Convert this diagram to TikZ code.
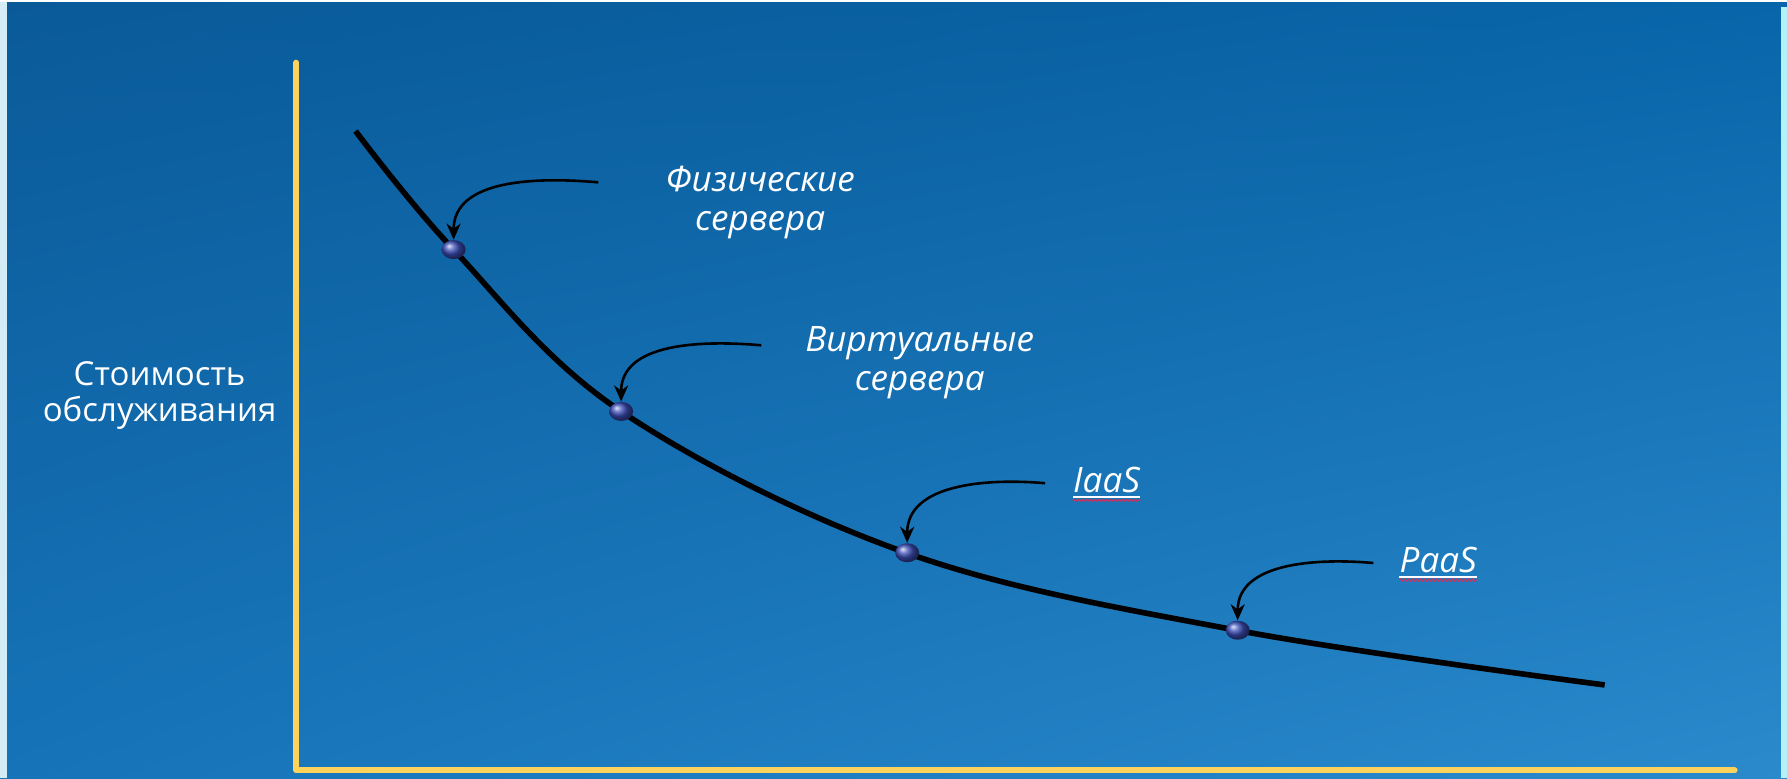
\documentclass[tikz,border=0pt]{standalone}
\usepackage{fontspec}
\setmainfont{Open Sans}
\usetikzlibrary{arrows.meta}
\usetikzlibrary{shapes.geometric}
\usetikzlibrary{shadings}
\usetikzlibrary{decorations.pathmorphing}
\definecolor{bgtl}{HTML}{0A5A98}
\definecolor{bgtr}{HTML}{0865A9}
\definecolor{bgbl}{HTML}{1673B8}
\definecolor{bgbr}{HTML}{2A8ACC}
\definecolor{edgeleft}{HTML}{D4ECF6}
\definecolor{edgeright}{HTML}{B4F2F8}
\definecolor{axisyellow}{HTML}{FDD35E}
\definecolor{ballblue}{HTML}{3B4DB5}
\definecolor{spellred}{HTML}{D0305A}

\begin{document}
\begin{tikzpicture}[x=0.02cm,y=0.02cm,
		ax/.style={line width=3pt,color=axisyellow,line cap=round,line join=round},
		ball/.style={ellipse,shading=ball,ball color=ballblue,minimum width=12pt,minimum height=9.5pt,inner sep=0pt},
		lbl/.style={text=white,font=\fontsize{17.5}{19.5}\selectfont\itshape,align=center,inner sep=0pt},
		ptr/.style={-{Stealth[length=8pt,width=7pt,inset=2.5pt]},line width=1.3pt},
		uline/.style={white,line width=0.7pt},
		spell/.style={spellred,line width=0.6pt,decorate,decoration={zigzag,segment length=2pt,amplitude=0.5pt}}]
	%% background
	\shade[upper left=bgtl,upper right=bgtr,lower left=bgbl,lower right=bgbr] (0,0) rectangle (1568,683);
	\useasboundingbox (0,0) rectangle (1568,683);
	\fill[edgeleft] (0,0) rectangle (6,683);
	\fill[white] (0,681.5) rectangle (1568,683);
	\fill[edgeright] (1562.7,0) rectangle (1568,677);
	%% define axes
	\coordinate (ytop) at (260,628);
	\coordinate (orig) at (260,7);
	\coordinate (xend) at (1522,7);
	\draw[ax] (ytop) -- (orig) -- (xend);
	\node (cost) at (140,336) [text=white,font=\fontsize{16.5}{18.2}\selectfont,align=center,inner sep=0pt] {Стоимость\\обслуживания};
	%% define curve
	\draw[line width=2.8pt] plot [smooth, tension=0.6] coordinates {(312,568) (398,464) (545,322) (795,198) (1085,130) (1408,82)};
	%% define points
	\node (b1) at (398,464) [ball] {};
	\node (b2) at (545,322) [ball] {};
	\node (b3) at (796,198) [ball] {};
	\node (b4) at (1086,130) [ball] {};
	%% define labels
	\node (phys) at (667,505) [lbl] {Физические\\сервера};
	\node (virt) at (807,365) [lbl] {Виртуальные\\сервера};
	\node (iaas) at (971,251) [lbl,anchor=base] {IaaS};
	\node (paas) at (1262,181) [lbl,anchor=base] {PaaS};
	\draw[uline] ([yshift=-2pt]iaas.south west) -- ([yshift=-2pt]iaas.south east);
	\draw[spell] ([yshift=-3.6pt]iaas.south west) -- ([yshift=-3.6pt]iaas.south east);
	\draw[uline] ([yshift=-2pt]paas.south west) -- ([yshift=-2pt]paas.south east);
	\draw[spell] ([yshift=-3.6pt]paas.south west) -- ([yshift=-3.6pt]paas.south east);
	%% define arrows
	\coordinate (a1) at (525,523);
	\coordinate (a2) at (668,380);
	\coordinate (a3) at (917,259);
	\coordinate (a4) at (1205,189);
	\draw[ptr] (a1) to[out=175,in=90] (b1.north);
	\draw[ptr] (a2) to[out=175,in=90] (b2.north);
	\draw[ptr] (a3) to[out=175,in=90] (b3.north);
	\draw[ptr] (a4) to[out=175,in=90] (b4.north);
\end{tikzpicture}
\end{document}
